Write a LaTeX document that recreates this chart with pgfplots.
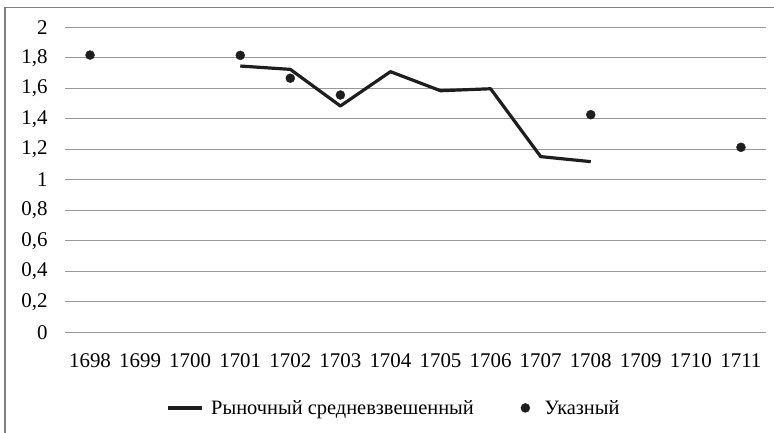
\documentclass[border=0pt]{standalone}
\usepackage{pgfplots}
\pgfplotsset{compat=1.18}
\usepackage{fontspec}
\setmainfont{Liberation Serif}
\definecolor{gridgray}{HTML}{999999}
\definecolor{framegray}{HTML}{7F7F7F}
\definecolor{ink}{HTML}{1E1E1E}
\pgfplotsset{
  longline/.style={legend image code/.code={\path (0bp,0bp) (40bp,0bp); \draw[##1] (0bp,0bp) -- (34bp,0bp);}},
  dotleg/.style={legend image code/.code={\path (0bp,-5bp) (20bp,5bp); \draw[##1] plot coordinates {(3bp,0bp)};}}
}
\begin{document}
\begin{tikzpicture}[x=1bp,y=1bp]
\useasboundingbox (-65,-100.7) rectangle (709,332.3);
\draw[framegray, line width=1.3bp] (-60,-101) -- (-60,324.8) -- (710,324.8);
\begin{axis}[
  at={(0,0)}, anchor=origin,
  scale only axis, width=701bp, height=305bp,
  xmin=1697.5, xmax=1711.5, ymin=0, ymax=2,
  xtick={1698,...,1711}, ytick={0,0.2,...,2.01},
  axis line style={draw=none},
  tick style={draw=none},
  ymajorgrids, grid style={gridgray, line width=1.1bp},
  /pgf/number format/assume math mode=true,
  xticklabel style={/pgf/number format/1000 sep=, font=\fontsize{21}{24}\selectfont, yshift=-18bp},
  yticklabel style={/pgf/number format/.cd, use comma, fixed, fixed zerofill=false, precision=1, /tikz/.cd, font=\fontsize{21}{24}\selectfont, xshift=-14bp},
  legend columns=2,
  legend style={draw=none, fill=none, at={(rel axis cs:0.469,-0.248)}, anchor=center,
    font=\fontsize{20.5}{24}\selectfont,
    /tikz/every even column/.append style={column sep=45bp}},
  clip=false,
]
\addplot[ink, line width=3.2bp, line join=round, longline] coordinates {
  (1701,1.746) (1702,1.724) (1703,1.484) (1704,1.709) (1705,1.584) (1706,1.597) (1707,1.152) (1708,1.119)
};
\addlegendentry{Рыночный средневзвешенный}
\addplot[only marks, mark=*, mark size=4.5bp, ink, mark options={fill=ink}, dotleg] coordinates {
  (1698,1.818) (1701,1.816) (1702,1.666) (1703,1.556) (1708,1.427) (1711,1.213)
};
\addlegendentry{Указный}
\end{axis}
\end{tikzpicture}
\end{document}
